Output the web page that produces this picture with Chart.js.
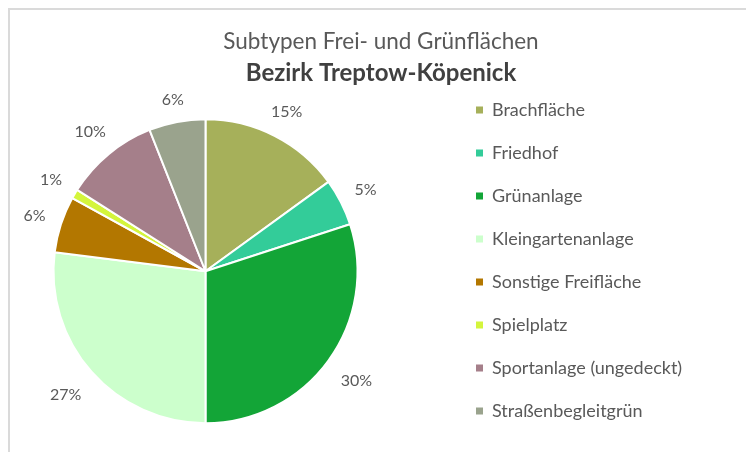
<!DOCTYPE html>
<html lang="de">
<head>
<meta charset="utf-8">
<title>Subtypen Frei- und Grünflächen</title>
<script src="https://cdn.jsdelivr.net/npm/chart.js@4.4.1/dist/chart.umd.min.js"></script>
<style>
  html, body { margin: 0; padding: 0; background: #fff; }
  #wrap { position: relative; width: 746px; height: 452px; overflow: hidden; }
  #frame {
    position: absolute; left: 8px; top: 8px; width: 800px; height: 500px;
    border-top: 2px solid #dadada; border-left: 2px solid #dadada;
  }
  /* canvas is wider than the card and shifted left so the pie sits left of centre */
  canvas { position: absolute; left: -40px; top: 0; }
</style>
</head>
<body>
<div id="wrap">
  <div id="frame"></div>
  <canvas id="chart" width="842" height="452"></canvas>
</div>
<script>
const titleText = "Subtypen Frei- und Grünflächen";
const subtitleText = "Bezirk Treptow-Köpenick";

const categories = [
  "Brachfläche",
  "Friedhof",
  "Grünanlage",
  "Kleingartenanlage",
  "Sonstige Freifläche",
  "Spielplatz",
  "Sportanlage (ungedeckt)",
  "Straßenbegleitgrün"
];
const shares = [15, 5, 30, 27, 6, 1, 10, 6];
const colors = ["#a6b05a", "#33cc99", "#13a537", "#ccffcc", "#b37700", "#d4f53c", "#a57f8a", "#9aa38d"];

const textGray = "#595959";
const rightBlock = 351; // legend + empty space right of the pie

// percent labels just outside each slice
const outsideLabels = {
  id: "outsideLabels",
  afterDatasetsDraw(chart) {
    const ctx = chart.ctx;
    const arcs = chart.getDatasetMeta(0).data;
    const total = shares.reduce((a, b) => a + b, 0);
    ctx.save();
    ctx.font = "16px Lato";
    ctx.fillStyle = textGray;
    ctx.textAlign = "center";
    ctx.textBaseline = "middle";
    arcs.forEach((arc, i) => {
      const p = arc.getProps(["x", "y", "startAngle", "endAngle", "outerRadius"], true);
      const mid = (p.startAngle + p.endAngle) / 2;
      const ux = Math.cos(mid), uy = Math.sin(mid);
      const label = Math.round(shares[i] / total * 100) + "%";
      const w = ctx.measureText(label).width;
      const d = p.outerRadius + 16 + (w / 2) * Math.abs(ux) + (uy > 0 ? 10 : 4) * Math.abs(uy);
      ctx.fillText(label, p.x + ux * d, p.y + uy * d);
    });
    ctx.restore();
  }
};

// empty box right of the legend, keeps the pie left and the title centred
let spacerWidth = 150;
const legendSpacer = {
  id: "legendSpacer",
  beforeInit(chart) {
    const box = {
      position: "right", weight: 3000, fullSize: true, options: { display: false },
      left: 0, top: 0, right: 0, bottom: 0, width: 0, height: 0,
      isHorizontal() { return false; },
      update(maxWidth, maxHeight) {
        this.width = spacerWidth;
        this.height = maxHeight;
      },
      draw() {}
    };
    Chart.layouts.addBox(chart, box);
  }
};

const chart = new Chart(document.getElementById("chart"), {
  type: "pie",
  data: {
    labels: categories,
    datasets: [{
      data: shares,
      backgroundColor: colors,
      borderColor: "#ffffff",
      borderWidth: 2,
      radius: 152
    }]
  },
  options: {
    responsive: false,
    devicePixelRatio: 1,
    animation: false,
    layout: { padding: { top: 17, bottom: 7, left: 0, right: 0 } },
    plugins: {
      title: {
        display: true,
        text: titleText,
        color: textGray,
        font: { family: "Lato", size: 22.5, weight: "normal", lineHeight: 1.2 },
        padding: { top: 11.5, bottom: 3 }
      },
      subtitle: {
        display: true,
        text: subtitleText,
        color: "#404040",
        font: { family: "Lato", size: 24, weight: "bold", lineHeight: 1.2 },
        padding: { top: 0, bottom: 10.2 }
      },
      legend: {
        position: "right",
        align: "end",
        labels: {
          color: textGray,
          font: { family: "Lato", size: 18 },
          boxWidth: 7,
          boxHeight: 7,
          padding: 25,
          // solid squares, without the white slice border
          generateLabels(chart) {
            const base = Chart.overrides.pie.plugins.legend.labels.generateLabels(chart);
            return base.map(item => ({ ...item, lineWidth: 0 }));
          }
        }
      },
      tooltip: { enabled: false }
    }
  },
  plugins: [outsideLabels, legendSpacer]
});

// second layout pass once the legend width is known
spacerWidth = Math.max(0, rightBlock - chart.legend.width);
chart.update();
</script>
</body>
</html>
